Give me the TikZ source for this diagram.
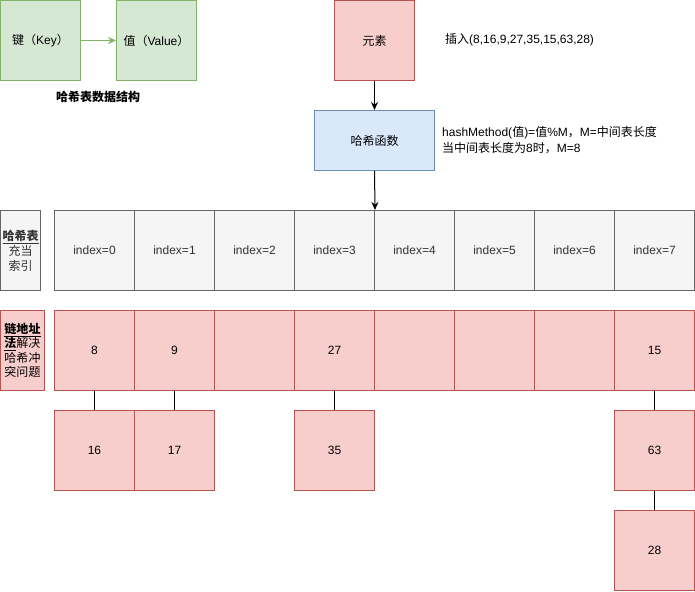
\documentclass[tikz,border=0pt]{standalone}
\usepackage{fontspec}
\setmainfont{Liberation Sans}
\newfontfamily\cjk{Noto Sans CJK SC}
\usetikzlibrary{arrows.meta}
\definecolor{gfill}{HTML}{D5E8D4}
\definecolor{gline}{HTML}{82B366}
\definecolor{rfill}{HTML}{F8CECC}
\definecolor{rline}{HTML}{B85450}
\definecolor{bfill}{HTML}{DAE8FC}
\definecolor{bline}{HTML}{6C8EBF}
\definecolor{sfill}{HTML}{F5F5F5}
\definecolor{sline}{HTML}{666666}
\definecolor{stext}{HTML}{333333}
\begin{document}
\begin{tikzpicture}[x=1pt,y=-1pt,font=\fontsize{12}{14}\selectfont,
  box/.style={draw,line width=1pt,minimum width=80pt,minimum height=80pt,inner sep=0pt,anchor=north west},
  greenbox/.style={box,fill=gfill,draw=gline},
  redbox/.style={box,fill=rfill,draw=rline},
  greybox/.style={box,fill=sfill,draw=sline,text=stext},
  arr/.style={line width=1pt,-{Stealth[length=8pt,width=7pt]}},
  link/.style={line width=1pt}]
\useasboundingbox (0,0) rectangle (695,591);
% key-value
\node[greenbox] (key) at (0,0) {{\cjk 键（}Key{\cjk ）}};
\node[greenbox] (val) at (116,0) {{\cjk 值（}Value{\cjk ）}};
\draw[arr,draw=gline] (key.east) -- (val.west);
\node[font=\fontsize{12}{14}\selectfont\cjk\bfseries] (title) at (98,97) {哈希表数据结构};
% element and hash function
\node[redbox] (elem) at (334,0) {\cjk 元素};
\node[anchor=west,inner sep=0pt] (ins) at (445,40) {{\cjk 插入}(8,16,9,27,35,15,63,28)};
\node[box,fill=bfill,draw=bline,minimum width=120pt,minimum height=60pt] (hash) at (314,110) {\cjk 哈希函数};
\node[anchor=west,align=left,inner sep=0pt,font=\fontsize{12}{16}\selectfont] (htext) at (442,140)
  {hashMethod({\cjk 值})={\cjk 值}\%M{\cjk ，}M={\cjk 中间表长度}\\{\cjk 当中间表长度为}8{\cjk 时，}M=8};
\draw[arr] (elem.south) -- (hash.north);
% index row
\node[greybox,minimum width=40pt,align=center,font=\fontsize{12}{15}\selectfont] (idxlabel) at (0,210)
  {{\cjk\bfseries\underline{哈希表}}\\{\cjk 充当}\\{\cjk 索引}};
\foreach \i in {0,...,7}{
  \node[greybox] (i\i) at (54+80*\i,210) {index=\i};
}
\draw[arr] (hash.south) -- (i3.north east);
% chain row
\node[redbox,minimum width=44pt,align=center,font=\fontsize{12}{14.5}\selectfont] (chlabel) at (0,310)
  {{\cjk\bfseries\underline{链地址}}\\{\cjk{\bfseries\underline{法}}解决}\\{\cjk 哈希冲}\\{\cjk 突问题}};
\node[redbox] (c0) at (54,310) {8};
\node[redbox] (c1) at (134,310) {9};
\node[redbox] (c2) at (214,310) {};
\node[redbox] (c3) at (294,310) {27};
\node[redbox] (c4) at (374,310) {};
\node[redbox] (c5) at (454,310) {};
\node[redbox] (c6) at (534,310) {};
\node[redbox] (c7) at (614,310) {15};
% chained entries
\node[redbox] (s16) at (54,410) {16};
\node[redbox] (s17) at (134,410) {17};
\node[redbox] (s35) at (294,410) {35};
\node[redbox] (s63) at (614,410) {63};
\node[redbox] (s28) at (614,510) {28};
\draw[link] (c0.south) -- (s16.north);
\draw[link] (c1.south) -- (s17.north);
\draw[link] (c3.south) -- (s35.north);
\draw[link] (c7.south) -- (s63.north);
\draw[link] (s63.south) -- (s28.north);
\end{tikzpicture}
\end{document}
